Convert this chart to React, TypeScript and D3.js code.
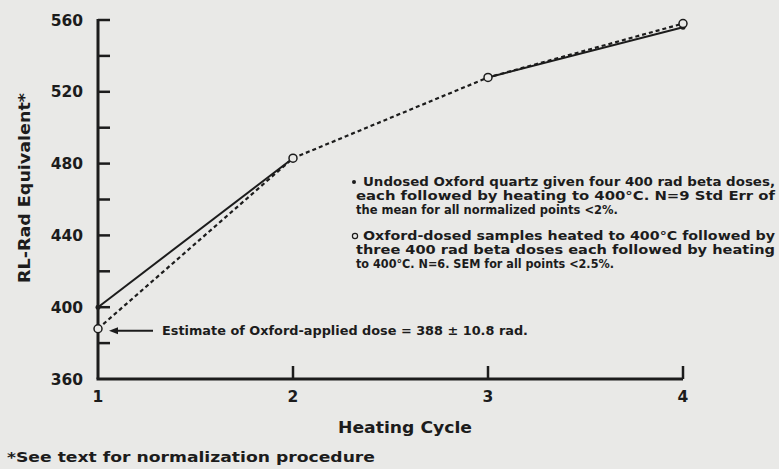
import React from "react";
import * as d3 from "d3";

// Heating cycles and normalized RL-rad equivalents
const cycles = [1, 2, 3, 4];
const undosedValues = [400, 483, 528, 556];
const dosedValues = [388, 483, 528, 558];
// The solid curve is inked only over these cycle intervals (index pairs)
const undosedSegments = [
  [0, 1],
  [2, 3],
];
const yTicksMajor = [360, 400, 440, 480, 520, 560];
const yTicksMinor = [380, 420, 460, 500, 540];
const xTicks = [1, 2, 3, 4];

const legendUndosed = [
  "Undosed Oxford quartz given four 400 rad beta doses,",
  "each followed by heating to 400\u00B0C.  N=9 Std Err of",
  "the mean for all normalized points <2%.",
];
const legendDosed = [
  "Oxford-dosed samples heated to 400\u00B0C followed by",
  "three 400 rad beta doses each followed by heating",
  "to 400\u00B0C.  N=6.  SEM for all points <2.5%.",
];
const estimateNote = "Estimate of Oxford-applied dose = 388 \u00B1 10.8 rad.";
const footnote = "*See text for normalization procedure";

const W = 779;
const H = 469;
const INK = "#1c1c1c";
const PAPER = "#e9e9e7";
const FONT = "'DejaVu Sans', Verdana, sans-serif";

export default function App() {
  const x = d3.scaleLinear().domain([1, 4]).range([98, 683]);
  const y = d3.scaleLinear().domain([360, 560]).range([379, 20]);

  const line = d3
    .line<[number, number]>()
    .x((d) => x(d[0]))
    .y((d) => y(d[1]));

  const dosedPts = dosedValues.map((v, i) => [cycles[i], v] as [number, number]);

  const tickLen = 12;
  const estY = y(dosedValues[0]) + 2;

  return (
    <svg
      width={W}
      height={H}
      style={{ position: "absolute", left: 0, top: 0, background: PAPER }}
      fontFamily={FONT}
      fontWeight="bold"
      fill={INK}
    >
      {/* axes */}
      <line x1={x(1)} x2={x(1)} y1={y(560) - 1} y2={y(360)} stroke={INK} strokeWidth={3} />
      <line x1={x(1) - 1.5} x2={x(4)} y1={y(360)} y2={y(360)} stroke={INK} strokeWidth={3} />

      {yTicksMajor.concat(yTicksMinor).filter((v) => v !== 360).map((v) => (
        <line key={"yt" + v} x1={x(1)} x2={x(1) + tickLen} y1={y(v)} y2={y(v)} stroke={INK} strokeWidth={2.5} />
      ))}
      {yTicksMajor.map((v) => (
        <text key={"yl" + v} x={83} y={y(v)} dy="0.36em" textAnchor="end" fontSize={15.5}>
          {v}
        </text>
      ))}

      {xTicks.filter((v) => v !== 1).map((v) => (
        <line key={"xt" + v} x1={x(v)} x2={x(v)} y1={y(360)} y2={y(360) - 13} stroke={INK} strokeWidth={2.5} />
      ))}
      {xTicks.map((v) => (
        <text key={"xl" + v} x={x(v)} y={402} textAnchor="middle" fontSize={15.5}>
          {v}
        </text>
      ))}

      <text x={405} y={433} textAnchor="middle" fontSize={15.5} textLength={134} lengthAdjust="spacingAndGlyphs">
        Heating Cycle
      </text>
      <text
        transform={`translate(30,188) rotate(-90)`}
        textAnchor="middle"
        fontSize={15.5}
        textLength={190}
        lengthAdjust="spacingAndGlyphs"
      >
        RL-Rad Equivalent*
      </text>

      {/* series */}
      {undosedSegments.map(([a, b], k) => (
        <path
          key={"seg" + k}
          d={
            line([
              [cycles[a], undosedValues[a]],
              [cycles[b], undosedValues[b]],
            ]) || ""
          }
          fill="none"
          stroke={INK}
          strokeWidth={2}
        />
      ))}
      <path
        d={line(dosedPts) || ""}
        fill="none"
        stroke={INK}
        strokeWidth={2.2}
        strokeDasharray="4 3"
      />
      {undosedValues.map((v, i) => (
        <circle key={"u" + i} cx={x(cycles[i])} cy={y(v)} r={2.5} fill={INK} />
      ))}
      {dosedValues.map((v, i) => (
        <circle
          key={"d" + i}
          cx={x(cycles[i])}
          cy={y(v)}
          r={4}
          fill={PAPER}
          stroke={INK}
          strokeWidth={1.5}
        />
      ))}

      {/* estimate annotation */}
      <line x1={114} x2={153} y1={estY} y2={estY} stroke={INK} strokeWidth={2} />
      <path d={`M109,${estY} l9,-3.5 l0,7 z`} fill={INK} />
      <text x={162} y={estY} dy="0.36em" fontSize={11.5} textLength={366} lengthAdjust="spacingAndGlyphs">
        {estimateNote}
      </text>

      {/* legend */}
      <circle cx={354} cy={182} r={2} fill={INK} />
      {legendUndosed.map((t, i) => (
        <text
          key={"lu" + i}
          x={i === 0 ? 363 : 356}
          y={186 + i * 14}
          fontSize={11.5}
          textLength={i === 2 ? 262 : i === 0 ? 412 : 419}
          lengthAdjust="spacingAndGlyphs"
        >
          {t}
        </text>
      ))}
      <circle cx={355} cy={236} r={2.6} fill="none" stroke={INK} strokeWidth={1.2} />
      {legendDosed.map((t, i) => (
        <text
          key={"ld" + i}
          x={i === 0 ? 363 : 356}
          y={240 + i * 14}
          fontSize={11.5}
          textLength={i === 2 ? 258 : i === 0 ? 412 : 419}
          lengthAdjust="spacingAndGlyphs"
        >
          {t}
        </text>
      ))}

      <text x={7} y={462} fontSize={14} textLength={368} lengthAdjust="spacingAndGlyphs">
        {footnote}
      </text>
    </svg>
  );
}
